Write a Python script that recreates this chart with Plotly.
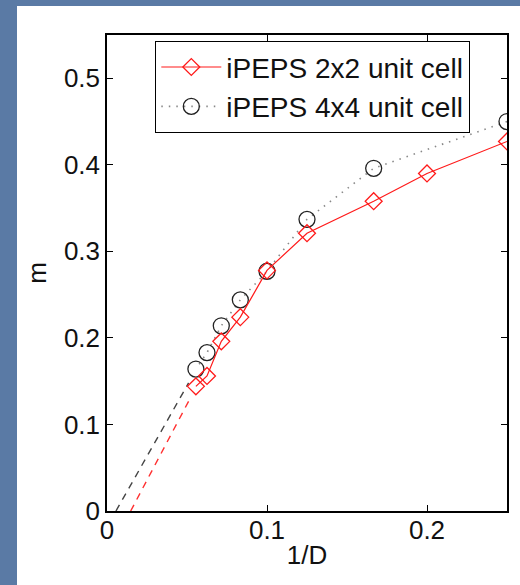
import plotly.graph_objects as go

# Data
inv_D_2x2 = [0.25, 0.2, 1/6, 0.125, 0.1, 1/12, 1/14, 1/16, 1/18]
m_2x2 = [0.427, 0.390, 0.358, 0.321, 0.278, 0.224, 0.196, 0.156, 0.144]
inv_D_4x4 = [0.25, 1/6, 0.125, 0.1, 1/12, 1/14, 1/16, 1/18]
m_4x4 = [0.450, 0.396, 0.337, 0.277, 0.244, 0.214, 0.183, 0.164]
fit_x_2x2 = [0.0148, 0.0525]
fit_y_2x2 = [0.0, 0.132]
fit_x_4x4 = [0.0056, 0.0510]
fit_y_4x4 = [0.0, 0.148]
x_ticks = [0, 0.1, 0.2]
y_ticks = [0, 0.1, 0.2, 0.3, 0.4, 0.5]

FONT = "Liberation Sans, Arial, Helvetica"
TXT = "#111111"

fig = go.Figure()
fig.add_trace(go.Scatter(x=fit_x_4x4, y=fit_y_4x4, mode="lines",
                         line=dict(color="#444444", width=1.4, dash="7px,6px"),
                         showlegend=False, hoverinfo="skip"))
fig.add_trace(go.Scatter(x=fit_x_2x2, y=fit_y_2x2, mode="lines",
                         line=dict(color="#ff3030", width=1.4, dash="7px,6px"),
                         showlegend=False, hoverinfo="skip"))
fig.add_trace(go.Scatter(x=inv_D_4x4, y=m_4x4, mode="lines+markers",
                         name="iPEPS 4x4 unit cell",
                         line=dict(color="#888888", width=1.6, dash="1.5px,6px"),
                         marker=dict(symbol="circle-open", size=16,
                                     color="#222222", line=dict(width=1.3))))
fig.add_trace(go.Scatter(x=inv_D_2x2, y=m_2x2, mode="lines+markers",
                         name="iPEPS 2x2 unit cell",
                         line=dict(color="#ff1a1a", width=1.2),
                         marker=dict(symbol="diamond-open", size=13,
                                     color="#ff1a1a", line=dict(width=1.3))))

L, R, T, B = 107, 13, 35, 74
W, H = 520 - L - R, 585 - T - B
fig.add_shape(type="rect", xref="paper", yref="paper",
              x0=(17 - L) / W, x1=(525 - L) / W,
              y0=(T + H - 590) / H, y1=(T + H - 6) / H,
              fillcolor="white", line=dict(width=0), layer="below")

axis_common = dict(showline=True, linecolor="black", linewidth=1.5, mirror="ticks",
                   ticks="inside", ticklen=6, tickcolor="black", showgrid=False,
                   zeroline=False, tickfont=dict(family=FONT, size=26, color=TXT))
fig.update_xaxes(range=[0, 0.25], tickvals=x_ticks, ticktext=["0", "0.1", "0.2"],
                 ticklabelstandoff=-5,
                 title=dict(text="1/D", font=dict(family=FONT, size=26, color=TXT),
                            standoff=2), **axis_common)
fig.update_yaxes(range=[0, 0.55], tickvals=y_ticks, ticktext=["0", "0.1", "0.2", "0.3", "0.4", "0.5"],
                 title=dict(text="m", font=dict(family=FONT, size=26, color=TXT),
                            standoff=10), **axis_common)

fig.update_layout(
    width=520, height=585,
    margin=dict(l=L, r=R, t=T, b=B),
    paper_bgcolor="#5a7aa5", plot_bgcolor="white",
    legend=dict(x=(155 - L) / W, y=(T + H - 41) / H, xanchor="left", yanchor="top",
                bgcolor="white", bordercolor="black", borderwidth=1.3,
                font=dict(family=FONT, size=28, color=TXT),
                traceorder="reversed", itemwidth=60, tracegroupgap=0),
    showlegend=True,
)
fig.write_html("out.html")
